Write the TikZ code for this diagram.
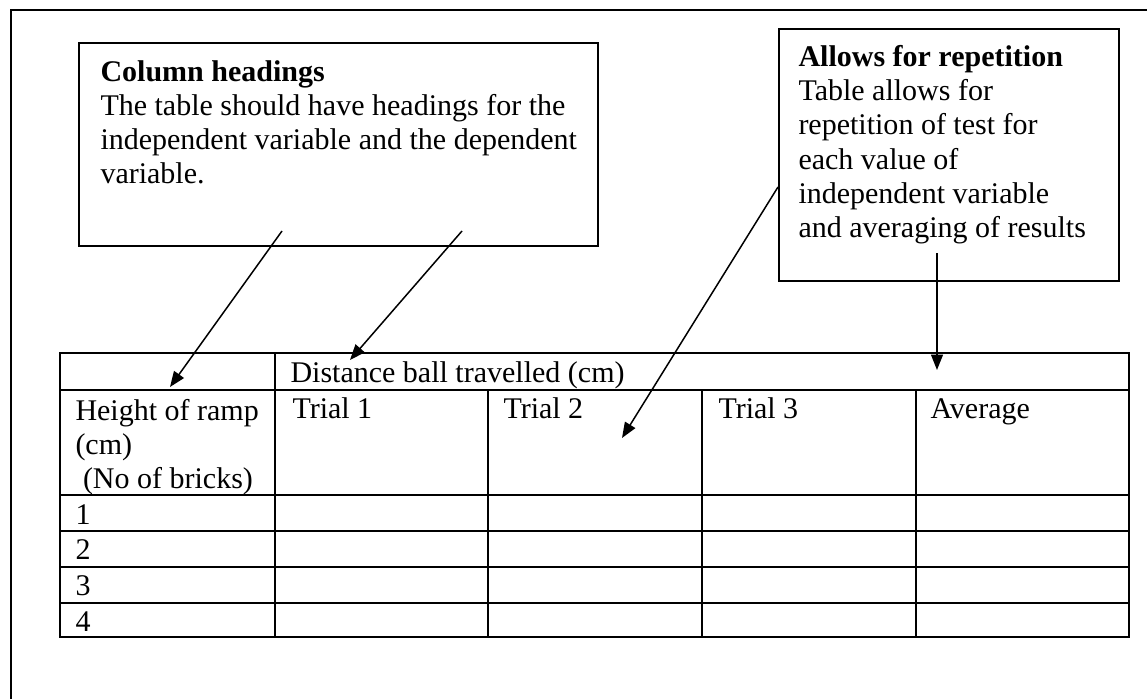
\documentclass[tikz,border=0pt]{standalone}
\usepackage{fontspec}
\setmainfont{Liberation Serif}
\usetikzlibrary{arrows.meta}
\begin{document}
\begin{tikzpicture}[x=0.4pt,y=-0.4pt,
  txt/.style={anchor=base west,inner sep=0pt,align=left,font=\fontsize{12}{13.6}\selectfont},
  cbox/.style={draw,line width=0.8pt,anchor=north west,inner sep=0pt},
  frame/.style={line width=0.9pt},
  grid/.style={line width=1.1pt},
  pointer/.style={line width=0.6pt,-{Triangle[length=6.2pt,width=4.8pt]}}]
\useasboundingbox (0,0) rectangle (1147,699);
% outer frame (open at right and bottom)
\draw[frame] (11,699) -- (11,10) -- (1147,10);
% callout boxes
\node[cbox,minimum width=207.6pt,minimum height=81.2pt] (lbox) at (78,42) {};
\node[cbox,minimum width=136pt,minimum height=100.8pt] (rbox) at (778,28) {};
% multi-line nodes: base anchor = baseline of last line
\node[txt] (ltext) at (100,184) {\textbf{Column headings}\\The table should have headings for the\\independent variable and the dependent\\variable.};
\node[txt] (rtext) at (798,237) {\textbf{Allows for repetition}\\Table allows for\\repetition of test for\\each value of\\independent variable\\and averaging of results};
% table grid
\draw[grid] (60,353) rectangle (1129,637);
\foreach \y in {390,495,531,567,603} \draw[grid] (60,\y) -- (1129,\y);
\draw[grid] (275,353) -- (275,637);
\foreach \x in {488,702,916} \draw[grid] (\x,390) -- (\x,637);
% table texts
\node[txt] (dist) at (290,382) {Distance ball travelled (cm)};
\node[txt] (height) at (75,488) {Height of ramp\\(cm)\\\ (No of bricks)};
\node[txt] (t1) at (292,418) {Trial 1};
\node[txt] (t2) at (503,418) {Trial 2};
\node[txt] (t3) at (718,418) {Trial 3};
\node[txt] (avg) at (930,418) {Average};
\node[txt] (r1) at (75,524) {1};
\node[txt] (r2) at (75,559) {2};
\node[txt] (r3) at (75,595) {3};
\node[txt] (r4) at (75,631) {4};
% arrow end points
\coordinate (a1s) at (282,231);
\coordinate (a1e) at (170,387);
\coordinate (a2s) at (462,231);
\coordinate (a2e) at (350,360);
\coordinate (a3s) at (778,187);
\coordinate (a3e) at (622,438);
\coordinate (a4s) at (937,253);
\coordinate (a4e) at (937,370);
\draw[pointer] (a1s) -- (a1e);
\draw[pointer] (a2s) -- (a2e);
\draw[pointer] (a3s) -- (a3e);
\draw[pointer] (a4s) -- (a4e);
\end{tikzpicture}
\end{document}
